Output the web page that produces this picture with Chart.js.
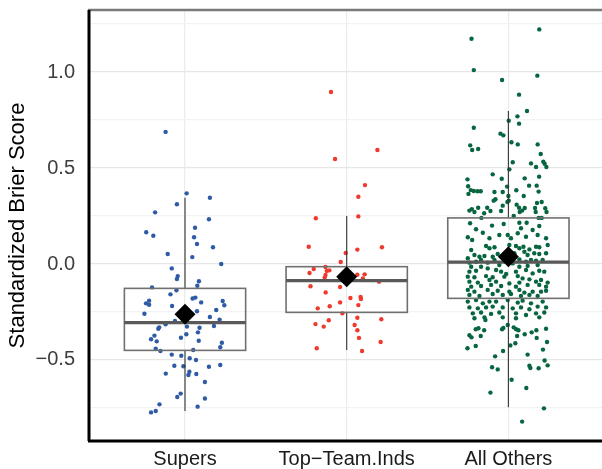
<!DOCTYPE html>
<html>
<head>
<meta charset="utf-8">
<script src="https://cdn.jsdelivr.net/npm/chart.js@4.4.1/dist/chart.umd.min.js"></script>
<style>
  html, body { margin: 0; padding: 0; background: #fff; }
  #wrap { width: 602px; height: 469px; }
</style>
</head>
<body>
<div id="wrap"><canvas id="chart" width="602" height="469"></canvas></div>
<script>
// categories and box statistics
var categories = [ "Supers", "Top\u2212Team.Inds", "All Others" ];
var whiskerLow = [ -0.766, -0.448, -0.746 ];
var boxQ1 = [ -0.45, -0.252, -0.179 ];
var boxMedian = [ -0.305, -0.087, 0.01 ];
var boxQ3 = [ -0.127, -0.014, 0.24 ];
var whiskerHigh = [ 0.345, 0.25, 0.797 ];
var groupMeans = [ -0.262, -0.066, 0.038 ];

var yMajorTicks = [ -0.5, 0, 0.5, 1.0 ];
var yMinorTicks = [ -0.75, -0.25, 0.25, 0.75, 1.25 ];

// jittered points: [ offset from category, score ]
var supersPoints = [
	[ -0.12, 0.688 ], [ 0.01, 0.368 ], [ 0.154, 0.345 ], [ -0.05, 0.311 ], [ -0.185, 0.269 ], [ 0.148, 0.233 ],
	[ 0.062, 0.189 ], [ -0.24, 0.165 ], [ -0.196, 0.147 ], [ 0.056, 0.139 ], [ 0.074, 0.104 ], [ 0.173, 0.087 ],
	[ -0.107, 0.052 ], [ 0.045, 0.036 ], [ 0.224, 0.0 ], [ -0.082, -0.023 ], [ -0.045, -0.063 ], [ -0.05, -0.078 ],
	[ 0.086, -0.09 ], [ 0.076, -0.113 ], [ -0.204, -0.122 ], [ -0.053, -0.137 ], [ -0.09, -0.158 ], [ 0.064, -0.175 ],
	[ 0.047, -0.18 ], [ -0.222, -0.191 ], [ -0.241, -0.205 ], [ -0.222, -0.212 ], [ 0.1, -0.2 ], [ 0.233, -0.193 ],
	[ 0.243, -0.215 ], [ -0.08, -0.219 ], [ 0.074, -0.246 ], [ 0.193, -0.24 ], [ -0.251, -0.259 ], [ 0.154, -0.276 ],
	[ 0.214, -0.29 ], [ -0.062, -0.297 ], [ -0.12, -0.314 ], [ -0.16, -0.33 ], [ -0.165, -0.337 ], [ 0.012, -0.326 ],
	[ 0.09, -0.332 ], [ 0.179, -0.323 ], [ 0.08, -0.356 ], [ -0.189, -0.373 ], [ 0.008, -0.366 ], [ -0.025, -0.384 ],
	[ -0.21, -0.392 ], [ -0.175, -0.403 ], [ 0.085, -0.4 ], [ 0.228, -0.41 ], [ 0.218, -0.434 ], [ -0.181, -0.441 ],
	[ -0.152, -0.453 ], [ 0.051, -0.448 ], [ -0.082, -0.472 ], [ -0.023, -0.478 ], [ 0.029, -0.491 ], [ 0.068, -0.5 ],
	[ -0.066, -0.53 ], [ -0.01, -0.533 ], [ 0.148, -0.535 ], [ 0.218, -0.526 ], [ 0.027, -0.561 ], [ -0.119, -0.571 ],
	[ 0.021, -0.578 ], [ 0.07, -0.573 ], [ 0.123, -0.615 ], [ -0.027, -0.675 ], [ -0.048, -0.693 ], [ 0.123, -0.701 ],
	[ -0.158, -0.731 ], [ 0.078, -0.743 ], [ -0.181, -0.766 ], [ -0.21, -0.773 ]
];

var topTeamPoints = [
	[ -0.097, 0.896 ], [ 0.19, 0.594 ], [ -0.072, 0.547 ], [ 0.113, 0.411 ], [ 0.072, 0.35 ], [ 0.072, 0.248 ],
	[ -0.191, 0.238 ], [ -0.235, 0.09 ], [ 0.218, 0.087 ], [ 0.066, 0.075 ], [ -0.006, 0.057 ], [ -0.037, 0.01 ],
	[ -0.131, -0.016 ], [ -0.204, -0.026 ], [ -0.107, -0.033 ], [ -0.123, -0.036 ], [ -0.23, -0.047 ], [ 0.066, -0.056 ],
	[ 0.111, -0.054 ], [ -0.131, -0.057 ], [ -0.136, -0.071 ], [ 0.1, -0.075 ], [ 0.2, -0.092 ], [ -0.224, -0.116 ],
	[ -0.041, -0.12 ], [ -0.13, -0.148 ], [ 0.086, -0.172 ], [ 0.088, -0.182 ], [ 0.023, -0.177 ], [ -0.041, -0.2 ],
	[ 0.072, -0.214 ], [ -0.105, -0.22 ], [ -0.179, -0.231 ], [ -0.027, -0.257 ], [ 0.066, -0.28 ], [ 0.214, -0.288 ],
	[ -0.111, -0.293 ], [ -0.193, -0.313 ], [ 0.049, -0.318 ], [ -0.142, -0.326 ], [ 0.066, -0.345 ], [ 0.076, -0.385 ],
	[ 0.21, -0.406 ], [ -0.185, -0.439 ], [ 0.095, -0.453 ]
];

var allOthersPoints = [
	[ 0.191, 1.222 ], [ -0.228, 1.173 ], [ -0.214, 1.01 ], [ 0.179, 0.981 ], [ -0.039, 0.958 ], [ 0.066, 0.882 ],
	[ 0.115, 0.797 ], [ 0.056, 0.769 ], [ 0.002, 0.746 ], [ 0.066, 0.731 ], [ -0.214, 0.71 ], [ -0.049, 0.679 ],
	[ -0.031, 0.67 ], [ 0.019, 0.634 ], [ 0.058, 0.623 ], [ 0.181, 0.623 ], [ -0.236, 0.618 ], [ -0.187, 0.599 ],
	[ -0.224, 0.594 ], [ 0.2, 0.573 ], [ 0.027, 0.53 ], [ 0.14, 0.524 ], [ 0.216, 0.533 ], [ 0.224, 0.522 ],
	[ 0.171, 0.505 ], [ 0.235, 0.505 ], [ 0.006, 0.493 ], [ -0.097, 0.467 ], [ 0.19, 0.455 ], [ -0.253, 0.441 ],
	[ -0.041, 0.444 ], [ 0.101, 0.446 ], [ 0.128, 0.408 ], [ 0.175, 0.408 ], [ -0.249, 0.405 ], [ -0.008, 0.403 ],
	[ -0.233, 0.385 ], [ -0.214, 0.38 ], [ -0.171, 0.379 ], [ -0.191, 0.379 ], [ 0.049, 0.384 ], [ -0.086, 0.375 ],
	[ -0.035, 0.375 ], [ 0.187, 0.377 ], [ -0.247, 0.365 ], [ 0.095, 0.354 ], [ 0, 0.354 ], [ -0.08, 0.337 ],
	[ -0.091, 0.33 ], [ 0.002, 0.33 ], [ -0.006, 0.323 ], [ 0.051, 0.309 ], [ 0.177, 0.318 ], [ 0.206, 0.323 ],
	[ -0.035, 0.304 ], [ -0.131, 0.293 ], [ -0.187, 0.293 ], [ -0.226, 0.286 ], [ 0.066, 0.293 ], [ 0.101, 0.292 ],
	[ 0.165, 0.292 ], [ 0.228, 0.29 ], [ -0.241, 0.278 ], [ -0.21, 0.271 ], [ -0.111, 0.276 ], [ -0.045, 0.276 ],
	[ 0.07, 0.271 ], [ 0.085, 0.278 ], [ 0.169, 0.271 ], [ 0.236, 0.271 ], [ -0.15, 0.264 ], [ 0.033, 0.25 ],
	[ -0.167, 0.24 ], [ 0.187, 0.24 ], [ 0.206, 0.24 ],
	[ -0.237, 0.212 ], [ -0.101, 0.2 ], [ -0.029, 0.208 ], [ 0.068, 0.215 ], [ 0.113, 0.215 ], [ 0.191, 0.198 ],
	[ -0.2, 0.181 ], [ -0.158, 0.163 ], [ -0.056, 0.151 ], [ -0.004, 0.151 ], [ 0.058, 0.16 ], [ 0.078, 0.186 ],
	[ 0.15, 0.177 ], [ 0.181, 0.151 ], [ -0.251, 0.139 ], [ -0.224, 0.125 ], [ -0.117, 0.134 ], [ 0.016, 0.134 ],
	[ 0.109, 0.142 ], [ 0.233, 0.134 ], [ -0.138, 0.094 ], [ -0.117, 0.082 ], [ -0.086, 0.087 ], [ 0.006, 0.099 ],
	[ 0.047, 0.094 ], [ 0.068, 0.082 ], [ 0.093, 0.09 ], [ 0.13, 0.076 ], [ 0.171, 0.09 ], [ 0.191, 0.087 ],
	[ 0.243, 0.099 ], [ -0.23, 0.073 ], [ -0.21, 0.047 ], [ -0.179, 0.038 ], [ -0.148, 0.042 ], [ -0.097, 0.038 ],
	[ -0.066, 0.052 ], [ 0.037, 0.056 ], [ 0.099, 0.064 ], [ 0.119, 0.047 ], [ 0.16, 0.056 ], [ 0.191, 0.052 ],
	[ 0.233, 0.056 ], [ -0.251, 0.03 ], [ -0.241, 0.007 ], [ -0.2, 0.012 ], [ -0.169, 0.021 ], [ -0.128, 0.007 ],
	[ -0.086, 0.021 ], [ 0.068, 0.024 ], [ 0.109, 0.012 ], [ 0.14, 0.021 ], [ 0.171, 0.017 ], [ 0.212, 0.021 ],
	[ -0.23, -0.014 ], [ -0.169, -0.014 ], [ -0.128, -0.023 ], [ -0.056, -0.005 ], [ 0.027, 0.003 ], [ 0.068, -0.014 ],
	[ 0.119, -0.01 ], [ 0.181, -0.005 ], [ -0.241, -0.04 ], [ -0.2, -0.035 ], [ -0.076, -0.031 ], [ -0.045, -0.04 ],
	[ -0.014, -0.052 ], [ 0.047, -0.04 ], [ 0.109, -0.031 ], [ 0.15, -0.049 ], [ 0.191, -0.035 ], [ 0.222, -0.04 ],
	[ -0.251, -0.066 ], [ -0.21, -0.069 ], [ -0.138, -0.063 ], [ -0.097, -0.069 ], [ -0.025, -0.066 ], [ 0.058, -0.063 ],
	[ 0.088, -0.075 ], [ 0.13, -0.08 ], [ -0.241, -0.092 ], [ -0.189, -0.097 ], [ -0.117, -0.083 ], [ -0.076, -0.092 ],
	[ 0.006, -0.101 ], [ 0.068, -0.097 ], [ 0.171, -0.092 ], [ 0.202, -0.083 ], [ 0.243, -0.097 ], [ -0.23, -0.118 ],
	[ -0.169, -0.115 ], [ -0.107, -0.109 ], [ -0.045, -0.115 ], [ 0.047, -0.118 ], [ 0.119, -0.109 ], [ 0.191, -0.109 ],
	[ 0.233, -0.118 ], [ -0.251, -0.135 ], [ -0.21, -0.144 ], [ -0.128, -0.135 ], [ -0.066, -0.139 ], [ 0.006, -0.144 ],
	[ 0.068, -0.135 ], [ 0.099, -0.149 ], [ 0.15, -0.144 ], [ 0.202, -0.144 ], [ 0.233, -0.139 ], [ -0.241, -0.161 ],
	[ -0.179, -0.167 ], [ -0.097, -0.156 ], [ -0.035, -0.161 ], [ 0.016, -0.156 ], [ 0.078, -0.167 ], [ 0.13, -0.161 ],
	[ 0.181, -0.167 ], [ -0.251, -0.196 ], [ -0.2, -0.188 ], [ -0.158, -0.205 ], [ -0.117, -0.196 ], [ -0.076, -0.196 ],
	[ -0.004, -0.188 ], [ 0.058, -0.201 ], [ 0.088, -0.191 ], [ 0.14, -0.205 ], [ 0.212, -0.196 ], [ -0.241, -0.226 ],
	[ -0.189, -0.231 ], [ -0.138, -0.226 ], [ -0.097, -0.222 ], [ -0.035, -0.226 ], [ 0.027, -0.231 ], [ 0.078, -0.226 ],
	[ 0.13, -0.236 ], [ 0.181, -0.222 ], [ 0.233, -0.226 ], [ -0.22, -0.257 ], [ -0.169, -0.253 ], [ -0.107, -0.26 ],
	[ -0.056, -0.253 ], [ 0.047, -0.257 ], [ 0.109, -0.266 ], [ 0.171, -0.257 ], [ 0.222, -0.253 ], [ -0.21, -0.283 ],
	[ -0.148, -0.278 ], [ -0.035, -0.278 ], [ 0.047, -0.283 ], [ 0.191, -0.278 ],
	[ -0.142, -0.292 ], [ -0.004, -0.318 ], [ -0.185, -0.335 ], [ -0.202, -0.34 ], [ -0.15, -0.345 ], [ -0.039, -0.34 ],
	[ -0.031, -0.333 ], [ 0.033, -0.33 ], [ 0.048, -0.34 ], [ 0.062, -0.345 ], [ 0.173, -0.345 ], [ 0.144, -0.356 ],
	[ 0.101, -0.366 ], [ 0.233, -0.337 ], [ -0.241, -0.371 ], [ -0.228, -0.382 ], [ -0.171, -0.375 ], [ 0.054, -0.375 ],
	[ 0.175, -0.385 ], [ 0.239, -0.406 ], [ 0.043, -0.413 ], [ 0.012, -0.424 ], [ -0.202, -0.427 ], [ -0.253, -0.439 ],
	[ 0.214, -0.446 ], [ -0.033, -0.453 ], [ 0.119, -0.472 ], [ -0.082, -0.481 ], [ 0.224, -0.503 ], [ -0.101, -0.538 ],
	[ -0.066, -0.549 ], [ 0.13, -0.53 ], [ 0.136, -0.542 ], [ 0.187, -0.543 ], [ 0.243, -0.528 ], [ 0.02, -0.603 ],
	[ 0.111, -0.646 ], [ -0.111, -0.67 ], [ 0.22, -0.752 ], [ 0.085, -0.821 ]
];

var groupPoints = [ supersPoints, topTeamPoints, allOthersPoints ];
var groupColors = [ "#2f5aa5", "#f0392d", "#07663f" ];

var boxHalfWidth = 0.375;
var fontFamily = "'Liberation Sans', Arial, Helvetica, sans-serif";

function toXY( list, idx ) {
	return list.map( function( p ) {
		return { x: idx + 1 + p[ 0 ], y: p[ 1 ] };
	} );
}

function fmtTick( v ) {
	return v.toFixed( 1 ).replace( "-", "\u2212" );
}

// boxes + whiskers, drawn just before the mean markers
var boxPlugin = {
	id: "boxes",
	beforeDatasetDraw: function( chart, args ) {
		if ( args.meta.label !== "mean" ) {
			return;
		}
		var ctx = chart.ctx,
			xs = chart.scales.x,
			ys = chart.scales.y;

		ctx.save();
		for ( var i = 0; i < categories.length; i++ ) {
			var xc = xs.getPixelForValue( i + 1 ),
				xl = xs.getPixelForValue( i + 1 - boxHalfWidth ),
				xr = xs.getPixelForValue( i + 1 + boxHalfWidth ),
				yq1 = ys.getPixelForValue( boxQ1[ i ] ),
				yq3 = ys.getPixelForValue( boxQ3[ i ] ),
				ymed = ys.getPixelForValue( boxMedian[ i ] );

			// whiskers
			ctx.strokeStyle = "#333333";
			ctx.lineWidth = 1.1;
			ctx.beginPath();
			ctx.moveTo( xc, ys.getPixelForValue( whiskerHigh[ i ] ) );
			ctx.lineTo( xc, yq3 );
			ctx.moveTo( xc, yq1 );
			ctx.lineTo( xc, ys.getPixelForValue( whiskerLow[ i ] ) );
			ctx.stroke();

			// box
			ctx.strokeStyle = "#707070";
			ctx.lineWidth = 1.6;
			ctx.strokeRect( xl, yq3, xr - xl, yq1 - yq3 );

			// median
			ctx.strokeStyle = "#595959";
			ctx.lineWidth = 3.2;
			ctx.beginPath();
			ctx.moveTo( xl, ymed );
			ctx.lineTo( xr, ymed );
			ctx.stroke();
		}
		ctx.restore();
	},
	afterDraw: function( chart ) {
		var ctx = chart.ctx,
			a = chart.chartArea;

		ctx.save();
		ctx.strokeStyle = "#7a7a7a";
		ctx.lineWidth = 2.5;
		ctx.beginPath();
		ctx.moveTo( a.left, a.top );
		ctx.lineTo( a.right, a.top );
		ctx.stroke();

		ctx.strokeStyle = "#000000";
		ctx.lineWidth = 3;
		ctx.beginPath();
		ctx.moveTo( a.left + 1, a.top );
		ctx.lineTo( a.left + 1, a.bottom );
		ctx.moveTo( a.left, a.bottom );
		ctx.lineTo( a.right, a.bottom );
		ctx.stroke();
		ctx.restore();
	}
};

var datasets = [ {
	label: "mean",
	data: groupMeans.map( function( m, i ) {
		return { x: i + 1, y: m };
	} ),
	pointStyle: "rectRot",
	pointRadius: 10.5,
	pointBackgroundColor: "#000000",
	pointBorderColor: "#000000",
	pointBorderWidth: 0,
	showLine: false
} ];

groupPoints.forEach( function( list, i ) {
	datasets.push( {
		label: categories[ i ],
		data: toXY( list, i ),
		pointRadius: 2.2,
		pointBorderWidth: 0,
		pointBackgroundColor: groupColors[ i ],
		pointBorderColor: groupColors[ i ],
		showLine: false
	} );
} );

new Chart( document.getElementById( "chart" ), {
	type: "scatter",
	data: { datasets: datasets },
	plugins: [ boxPlugin ],
	options: {
		responsive: false,
		animation: false,
		devicePixelRatio: 1,
		layout: { autoPadding: false, padding: { top: 10, right: 0, left: 0, bottom: 0 } },
		plugins: {
			legend: { display: false },
			tooltip: { enabled: false }
		},
		scales: {
			x: {
				type: "linear",
				min: 0.4,
				max: 3.579,
				afterBuildTicks: function( axis ) {
					axis.ticks = categories.map( function( c, i ) {
						return { value: i + 1 };
					} );
				},
				afterFit: function( axis ) {
					axis.height = 28;
					axis.paddingLeft = 0;
					axis.paddingRight = 0;
				},
				ticks: {
					autoSkip: false,
					maxRotation: 0,
					padding: 6,
					color: "#1a1a1a",
					font: { family: fontFamily, size: 20 },
					callback: function( v ) {
						return categories[ Math.round( v ) - 1 ];
					}
				},
				grid: { color: "#ebebeb", lineWidth: 1.2, drawTicks: false },
				border: { display: false }
			},
			y: {
				type: "linear",
				min: -0.922,
				max: 1.323,
				afterBuildTicks: function( axis ) {
					axis.ticks = yMajorTicks.concat( yMinorTicks ).sort( function( a, b ) {
						return a - b;
					} ).map( function( v ) {
						return { value: v };
					} );
				},
				afterFit: function( axis ) {
					axis.width = 88;
					axis.paddingTop = 0;
					axis.paddingBottom = 0;
				},
				ticks: {
					autoSkip: false,
					padding: 13,
					color: "#3d3d3d",
					font: { family: fontFamily, size: 20 },
					callback: function( v ) {
						return yMajorTicks.indexOf( v ) >= 0 ? fmtTick( v ) : "";
					}
				},
				grid: {
					drawTicks: false,
					color: function( c ) {
						return yMajorTicks.indexOf( c.tick.value ) >= 0 ? "#e6e6e6" : "#f3f3f3";
					},
					lineWidth: 1.3
				},
				border: { display: false },
				title: {
					display: true,
					text: "Standardized Brier Score",
					color: "#000000",
					font: { family: fontFamily, size: 22 },
					padding: { top: 5, bottom: 0 }
				}
			}
		}
	}
} );
</script>
</body>
</html>
